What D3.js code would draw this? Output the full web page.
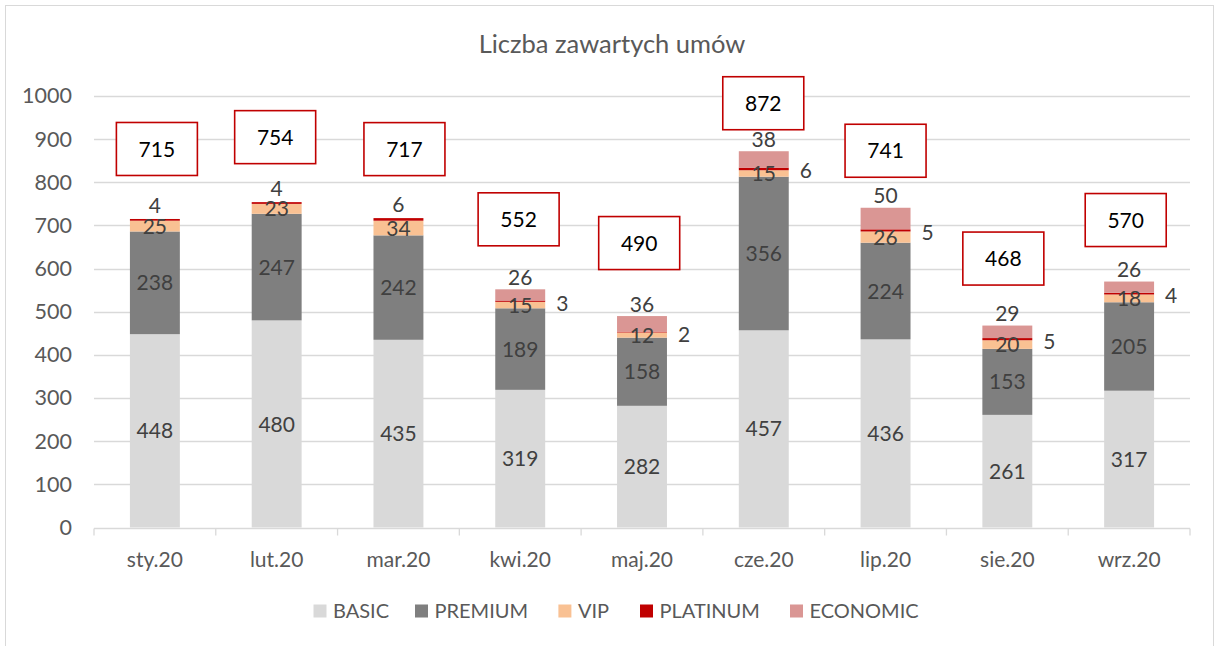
<!DOCTYPE html>
<html><head><meta charset="utf-8">
<script src="https://cdn.jsdelivr.net/npm/d3@7"></script>
<style>
html,body{margin:0;padding:0;background:#fff;}
svg{display:block;font-family:Lato,"Liberation Sans",sans-serif;}
</style></head>
<body><svg id="c" width="1219" height="646"></svg>
<script>
const categories = ["sty.20","lut.20","mar.20","kwi.20","maj.20","cze.20","lip.20","sie.20","wrz.20"];
const seriesNames = ["BASIC","PREMIUM","VIP","PLATINUM","ECONOMIC"];
const basic    = [448,480,435,319,282,457,436,261,317];
const premium  = [238,247,242,189,158,356,224,153,205];
const vip      = [25,23,34,15,12,15,26,20,18];
const platinum = [4,4,6,3,2,6,5,5,4];
const economic = [0,0,0,26,36,38,50,29,26];
const totals   = [715,754,717,552,490,872,741,468,570];
const yTicks   = [0,100,200,300,400,500,600,700,800,900,1000];
const title    = "Liczba zawartych umów";

// layout-only nudges for the hand-placed total boxes (px)
const boxNudge = [[2,-70],[-1.5,-65],[6,-69],[-1.6,-70],[-2.8,-73],[-0.5,-48],[0,-57],[-4,-67],[-3.4,-61.5]];

const colors = {BASIC:"#d9d9d9",PREMIUM:"#7f7f7f",VIP:"#f9c193",PLATINUM:"#c00000",ECONOMIC:"#da9694"};
const seriesVals = [basic,premium,vip,platinum,economic];

const svg = d3.select("#c");
// outer chart border
svg.append("rect").attr("x",5.5).attr("y",5.5).attr("width",1208).attr("height",660)
  .attr("fill","#fff").attr("stroke","#d9d9d9").attr("stroke-width",1);

const x = d3.scaleBand().domain(categories).range([94,1190]).paddingInner(0.59).paddingOuter(0.295);
const y = d3.scaleLinear().domain([0,1000]).range([527.5,96]);

// gridlines
svg.append("g").selectAll("line").data(yTicks.filter(d=>d>0)).join("line")
  .attr("x1",94).attr("x2",1190).attr("y1",d=>Math.round(y(d))+0.5).attr("y2",d=>Math.round(y(d))+0.5)
  .attr("stroke","#d9d9d9").attr("stroke-width",1.3);

// y axis labels
const yAxis = d3.axisLeft(y).tickValues(yTicks).tickSize(0).tickPadding(0).tickFormat(d3.format("d"));
const yg = svg.append("g").attr("transform","translate(72,0)").call(yAxis);
yg.select(".domain").remove();
yg.selectAll("text").attr("fill","#595959").attr("font-size",21.5).attr("font-family","Lato");

// stacked data
const rows = categories.map((c,i)=>{const r={cat:c}; seriesNames.forEach((s,j)=>r[s]=seriesVals[j][i]); return r;});
const stack = d3.stack().keys(seriesNames)(rows);

svg.append("g").selectAll("g").data(stack).join("g").attr("fill",d=>colors[d.key])
  .selectAll("rect").data(d=>d).join("rect")
  .attr("x",d=>x(d.data.cat)).attr("width",x.bandwidth())
  .attr("y",d=>y(d[1])).attr("height",d=>Math.max(0,y(d[0])-y(d[1])));

// x axis line + ticks
const x0 = Math.round(y(0))+0.5;
const xg = svg.append("g").attr("transform",`translate(0,${x0})`);
xg.append("line").attr("x1",94).attr("x2",1190).attr("stroke","#d9d9d9").attr("stroke-width",1.3);
const step = x.step();
xg.selectAll("line.t").data(d3.range(categories.length+1)).join("line").attr("class","t")
  .attr("x1",i=>94+i*step).attr("x2",i=>94+i*step).attr("y1",0).attr("y2",7)
  .attr("stroke","#d9d9d9").attr("stroke-width",1.3);
xg.selectAll("text").data(categories).join("text")
  .attr("x",d=>x(d)+x.bandwidth()/2).attr("y",559-x0).attr("dy","0.36em").attr("text-anchor","middle")
  .attr("fill","#595959").attr("font-size",21).text(d=>d);

// segment labels
const lab = svg.append("g").attr("fill","#404040").attr("font-size",21);
stack.forEach(layer=>{
  layer.forEach((d,i)=>{
    const v = d.data[layer.key];
    if(!v) return;
    const cx = x(d.data.cat)+x.bandwidth()/2;
    let tx=cx, ty=(y(d[0])+y(d[1]))/2, anchor="middle";
    if(layer.key==="PLATINUM"){
      if(economic[i]>0){ tx = x(d.data.cat)+x.bandwidth()+11; anchor="start"; ty += 2; }
      else { ty = y(d[1])-14; }
    } else if(layer.key==="ECONOMIC"){
      ty = y(d[1])-12;
    }
    lab.append("text").attr("x",tx).attr("y",ty).attr("dy","0.36em").attr("text-anchor",anchor).text(v);
  });
});

// total boxes
const bx = svg.append("g");
categories.forEach((c,i)=>{
  const cx = x(c)+x.bandwidth()/2 + boxNudge[i][0];
  const cy = y(totals[i]) + boxNudge[i][1];
  bx.append("rect").attr("x",cx-40.5).attr("y",cy-26.5).attr("width",81).attr("height",53)
    .attr("fill","#fff").attr("stroke","#c00000").attr("stroke-width",1.6);
  bx.append("text").attr("x",cx).attr("y",cy).attr("dy","0.36em").attr("text-anchor","middle")
    .attr("fill","#000").attr("font-size",21).text(totals[i]);
});

// title
svg.append("text").attr("x",612).attr("y",53).attr("text-anchor","middle")
  .attr("fill","#595959").attr("font-size",25.5).text(title);

// legend
const legX = [313.5,415,558.4,640,790];
const lg = svg.append("g");
seriesNames.forEach((s,i)=>{
  lg.append("rect").attr("x",legX[i]).attr("y",604.5).attr("width",13).attr("height",13).attr("fill",colors[s]);
  lg.append("text").attr("x",legX[i]+19.5).attr("y",611).attr("dy","0.36em").attr("fill","#595959")
    .attr("font-size",20).text(s);
});
</script></body></html>
